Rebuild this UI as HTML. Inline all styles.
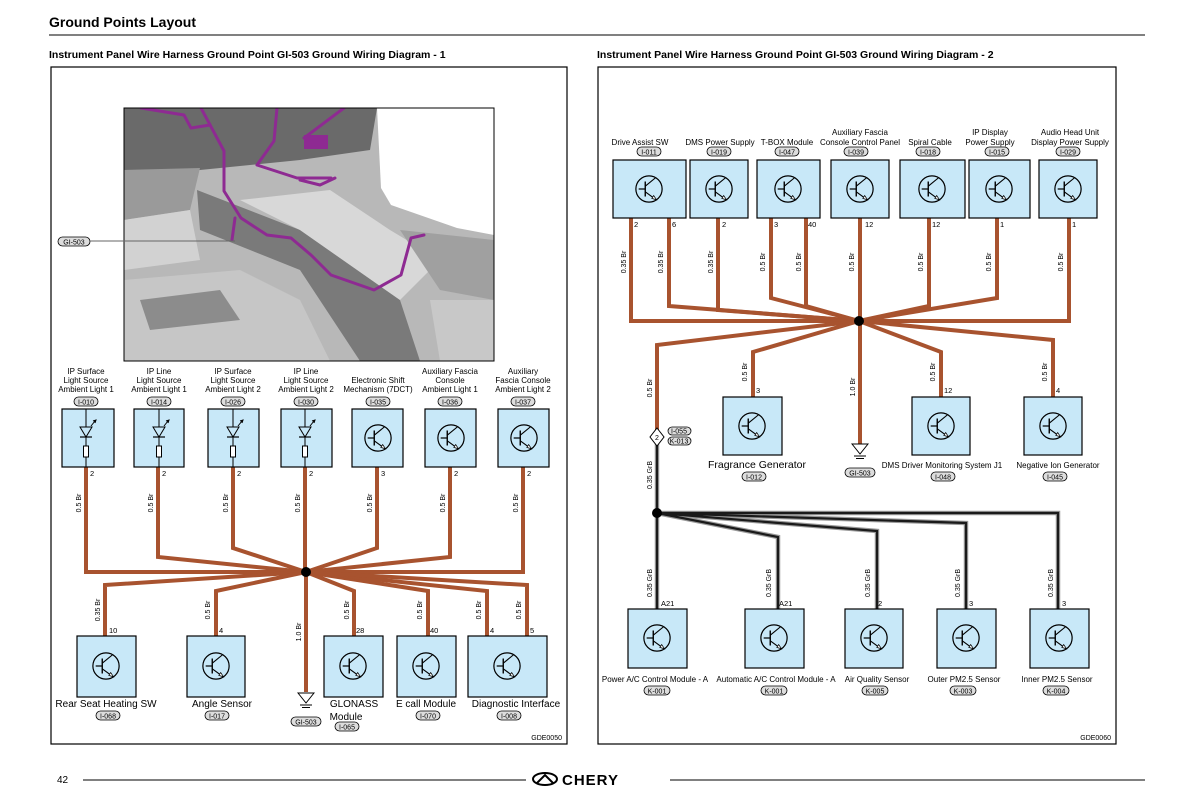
<!DOCTYPE html>
<html><head><meta charset="utf-8"><style>
html,body{margin:0;padding:0;background:#fff}
svg{display:block}
text{font-family:"Liberation Sans",Arial,sans-serif;fill:#000}
.s{font-size:8px}
.m{font-size:10px}
.p{font-size:7.5px}
.w{font-size:7px}
.bx{fill:#c8e8f8;stroke:#000;stroke-width:1.2}
.br{fill:none;stroke:#a8532f;stroke-width:4;stroke-linejoin:miter}
.bk1{fill:none;stroke:#999;stroke-width:4.5}
.bk2{fill:none;stroke:#1a1a1a;stroke-width:2.2}
.ov{fill:#ddd;stroke:#000;stroke-width:0.8}
.hp{fill:none;stroke:#8e2a92;stroke-width:3;stroke-linejoin:round;stroke-linecap:round}
</style></head><body>
<svg width="1191" height="797" viewBox="0 0 1191 797" xmlns="http://www.w3.org/2000/svg">
<defs>
<symbol id="t" viewBox="-16 -16 32 32">
<circle cx="0" cy="0" r="14" fill="none" stroke="#000" stroke-width="1.3"/>
<line x1="-11" y1="0" x2="-4" y2="0" stroke="#000" stroke-width="1.3"/>
<line x1="-4" y1="-8" x2="-4" y2="8" stroke="#000" stroke-width="1.5"/>
<line x1="-4" y1="-3" x2="7" y2="-12" stroke="#000" stroke-width="1.2"/>
<line x1="-4" y1="3" x2="7" y2="11" stroke="#000" stroke-width="1.2"/>
<path d="M3 10 L8 11.5 L5 7 Z" fill="#fff" stroke="#000" stroke-width="0.8"/>
</symbol>
<symbol id="d" viewBox="0 0 52 58">
<line x1="26" y1="0" x2="26" y2="18" stroke="#000" stroke-width="1"/>
<path d="M20 18 L32 18 L26 28 Z" fill="none" stroke="#000" stroke-width="1"/>
<line x1="20" y1="28" x2="32" y2="28" stroke="#000" stroke-width="1.2"/>
<line x1="26" y1="28" x2="26" y2="37" stroke="#000" stroke-width="1"/>
<rect x="23.5" y="37" width="5" height="11" fill="#fff" stroke="#000" stroke-width="1"/>
<line x1="26" y1="48" x2="26" y2="58" stroke="#000" stroke-width="1"/>
<path d="M31 17 L35 12 M33 12 L36 11 L35 14" stroke="#000" stroke-width="1" fill="none"/>
</symbol>
<symbol id="g" viewBox="0 0 18 18">
<path d="M1 1 L17 1 L9 11 Z" fill="#fff" stroke="#000" stroke-width="1"/>
<line x1="3" y1="13" x2="15" y2="13" stroke="#000"/>
<line x1="5" y1="15.5" x2="13" y2="15.5" stroke="#000"/>
</symbol>
<clipPath id="pc"><rect x="124" y="108" width="370" height="253"/></clipPath>
</defs>

<!-- header -->
<text x="49" y="27" style="font-size:14px;font-weight:bold">Ground Points Layout</text>
<line x1="49" y1="35" x2="1145" y2="35" stroke="#000" stroke-width="1"/>
<text x="49" y="58" style="font-size:10.5px;font-weight:bold">Instrument Panel Wire Harness Ground Point GI-503 Ground Wiring Diagram - 1</text>
<text x="597" y="58" style="font-size:10.5px;font-weight:bold">Instrument Panel Wire Harness Ground Point GI-503 Ground Wiring Diagram - 2</text>

<rect x="51" y="67" width="516" height="677" fill="none" stroke="#000" stroke-width="1.2"/>
<rect x="598" y="67" width="518" height="677" fill="none" stroke="#000" stroke-width="1.2"/>

<!-- photo -->
<g clip-path="url(#pc)">
<rect x="124" y="108" width="370" height="253" fill="#b8b8b8"/>
<path d="M124 108 H377 L370 150 L300 160 L200 170 L124 175 Z" fill="#6a6a6a"/>
<path d="M124 170 L200 168 L190 210 L124 220 Z" fill="#9a9a9a"/>
<path d="M124 220 L190 210 L200 260 L124 270 Z" fill="#d2d2d2"/>
<path d="M197 190 L300 230 L400 300 L420 361 L360 361 L300 270 L200 230 Z" fill="#7a7a7a"/>
<path d="M240 200 L330 190 L390 230 L440 260 L400 300 L300 230 Z" fill="#d8d8d8"/>
<path d="M400 230 L494 240 L494 300 L440 290 Z" fill="#a0a0a0"/>
<path d="M124 280 L240 270 L300 300 L330 361 L124 361 Z" fill="#c6c6c6"/>
<path d="M140 300 L220 290 L240 320 L150 330 Z" fill="#8c8c8c"/>
<path d="M430 300 L494 300 L494 361 L440 361 Z" fill="#c8c8c8"/>
<path d="M377 108 H494 V235 L457 228 L391 205 L381 188 Z" fill="#fff"/>
<path class="hp" d="M201 108 L224 151 L224 191 L241 218 L267 235 L291 238 L311 255 L331 275 L374 290 L401 275 L411 238 L424 235"/>
<path class="hp" d="M277 108 L274 141 L257 165 L297 178 L331 178"/>
<path class="hp" d="M141 108 L184 115 L191 128 L210 125"/>
<path class="hp" d="M304 138 L344 108"/>
<rect x="304" y="135" width="24" height="14" fill="#8e2a92"/>
<path class="hp" d="M235 218 L232 240"/>
<path class="hp" d="M300 180 L320 185 L335 178"/>
</g>
<rect x="124" y="108" width="370" height="253" fill="none" stroke="#000" stroke-width="1"/>
<rect x="58" y="237" width="32" height="9" rx="4.5" class="ov"/>
<text x="74" y="244.5" class="w" text-anchor="middle">GI-503</text>
<line x1="90" y1="241" x2="235" y2="241" stroke="#666" stroke-width="1"/>

<!-- LEFT TOP -->
<g class="s" text-anchor="middle">
<text x="86" y="374">IP Surface</text><text x="86" y="383">Light Source</text><text x="86" y="392">Ambient Light 1</text>
<text x="159" y="374">IP Line</text><text x="159" y="383">Light Source</text><text x="159" y="392">Ambient Light 1</text>
<text x="233" y="374">IP Surface</text><text x="233" y="383">Light Source</text><text x="233" y="392">Ambient Light 2</text>
<text x="306" y="374">IP Line</text><text x="306" y="383">Light Source</text><text x="306" y="392">Ambient Light 2</text>
<text x="378" y="383">Electronic Shift</text><text x="378" y="392">Mechanism (7DCT)</text>
<text x="450" y="374">Auxiliary Fascia</text><text x="450" y="383">Console</text><text x="450" y="392">Ambient Light 1</text>
<text x="523" y="374">Auxiliary</text><text x="523" y="383">Fascia Console</text><text x="523" y="392">Ambient Light 2</text>
</g>
<g>
<rect x="74" y="397" width="24" height="9" rx="4.5" class="ov"/><rect x="147" y="397" width="24" height="9" rx="4.5" class="ov"/>
<rect x="221" y="397" width="24" height="9" rx="4.5" class="ov"/><rect x="294" y="397" width="24" height="9" rx="4.5" class="ov"/>
<rect x="366" y="397" width="24" height="9" rx="4.5" class="ov"/><rect x="438" y="397" width="24" height="9" rx="4.5" class="ov"/>
<rect x="511" y="397" width="24" height="9" rx="4.5" class="ov"/>
</g>
<g class="w" text-anchor="middle">
<text x="86" y="404.5">I-010</text><text x="159" y="404.5">I-014</text><text x="233" y="404.5">I-026</text><text x="306" y="404.5">I-030</text><text x="378" y="404.5">I-035</text><text x="450" y="404.5">I-036</text><text x="523" y="404.5">I-037</text>
</g>
<path class="br" d="M86 467 V572 H306"/>
<path class="br" d="M158 467 V557 L306 572"/>
<path class="br" d="M233 467 V548 L306 572"/>
<path class="br" d="M305 467 V572"/>
<path class="br" d="M377 467 V548 L306 572"/>
<path class="br" d="M450 467 V557 L306 572"/>
<path class="br" d="M523 467 V572 H306"/>
<path class="br" d="M306 572 L105 585 V636"/>
<path class="br" d="M306 572 L216 591 V636"/>
<path class="br" d="M306 572 V692"/>
<path class="br" d="M306 572 L354 591 V636"/>
<path class="br" d="M306 572 L428 591 V636"/>
<path class="br" d="M306 572 L487 591 V636"/>
<path class="br" d="M306 572 L527 585 V636"/>
<circle cx="306" cy="572" r="5" fill="#000"/>

<rect x="62" y="409" width="52" height="58" class="bx"/><use href="#d" x="60" y="409" width="52" height="58"/>
<rect x="134" y="409" width="50" height="58" class="bx"/><use href="#d" x="133" y="409" width="52" height="58"/>
<rect x="208" y="409" width="51" height="58" class="bx"/><use href="#d" x="207" y="409" width="52" height="58"/>
<rect x="281" y="409" width="51" height="58" class="bx"/><use href="#d" x="279" y="409" width="52" height="58"/>
<rect x="352" y="409" width="51" height="58" class="bx"/><use href="#t" x="363" y="423" width="30" height="30"/>
<rect x="425" y="409" width="51" height="58" class="bx"/><use href="#t" x="436" y="423" width="30" height="30"/>
<rect x="498" y="409" width="51" height="58" class="bx"/><use href="#t" x="509" y="423" width="30" height="30"/>
<g class="p">
<text x="90" y="476">2</text><text x="162" y="476">2</text><text x="237" y="476">2</text><text x="309" y="476">2</text><text x="381" y="476">3</text><text x="454" y="476">2</text><text x="527" y="476">2</text>
</g>
<g class="w" text-anchor="middle">
<text transform="translate(81 503) rotate(-90)">0.5 Br</text>
<text transform="translate(153 503) rotate(-90)">0.5 Br</text>
<text transform="translate(228 503) rotate(-90)">0.5 Br</text>
<text transform="translate(300 503) rotate(-90)">0.5 Br</text>
<text transform="translate(372 503) rotate(-90)">0.5 Br</text>
<text transform="translate(445 503) rotate(-90)">0.5 Br</text>
<text transform="translate(518 503) rotate(-90)">0.5 Br</text>
<text transform="translate(100 610) rotate(-90)">0.35 Br</text>
<text transform="translate(210 610) rotate(-90)">0.5 Br</text>
<text transform="translate(301 632) rotate(-90)">1.0 Br</text>
<text transform="translate(349 610) rotate(-90)">0.5 Br</text>
<text transform="translate(422 610) rotate(-90)">0.5 Br</text>
<text transform="translate(481 610) rotate(-90)">0.5 Br</text>
<text transform="translate(521 610) rotate(-90)">0.5 Br</text>
</g>
<rect x="77" y="636" width="59" height="61" class="bx"/><use href="#t" x="91" y="651" width="30" height="30"/>
<rect x="187" y="636" width="58" height="61" class="bx"/><use href="#t" x="201" y="651" width="30" height="30"/>
<rect x="324" y="636" width="59" height="61" class="bx"/><use href="#t" x="338" y="651" width="30" height="30"/>
<rect x="397" y="636" width="59" height="61" class="bx"/><use href="#t" x="411" y="651" width="30" height="30"/>
<rect x="468" y="636" width="79" height="61" class="bx"/><use href="#t" x="492" y="651" width="30" height="30"/>
<use href="#g" x="297" y="692" width="18" height="18"/>
<g class="p">
<text x="109" y="633">10</text><text x="219" y="633">4</text><text x="356" y="633">28</text><text x="430" y="633">40</text><text x="490" y="633">4</text><text x="530" y="633">5</text>
</g>
<g class="m" text-anchor="middle">
<text x="106" y="707">Rear Seat Heating SW</text>
<text x="222" y="707">Angle Sensor</text>
<text x="354" y="707">GLONASS</text>
<text x="346" y="720">Module</text>
<text x="426" y="707">E call Module</text>
<text x="516" y="707">Diagnostic Interface</text>
</g>
<rect x="96" y="711" width="24" height="9" rx="4.5" class="ov"/>
<rect x="205" y="711" width="24" height="9" rx="4.5" class="ov"/>
<rect x="291" y="717" width="30" height="9" rx="4.5" class="ov"/>
<rect x="335" y="722" width="24" height="9" rx="4.5" class="ov"/>
<rect x="416" y="711" width="24" height="9" rx="4.5" class="ov"/>
<rect x="497" y="711" width="24" height="9" rx="4.5" class="ov"/>
<g class="w" text-anchor="middle">
<text x="108" y="718.5">I-068</text><text x="217" y="718.5">I-017</text><text x="306" y="724.5">GI-503</text><text x="347" y="729.5">I-065</text><text x="428" y="718.5">I-070</text><text x="509" y="718.5">I-008</text>
</g>
<text x="562" y="740" class="w" text-anchor="end">GDE0050</text>

<!-- RIGHT TOP -->
<g class="s" text-anchor="middle">
<text x="640" y="145">Drive Assist SW</text>
<text x="720" y="145">DMS Power Supply</text>
<text x="787" y="145">T-BOX Module</text>
<text x="860" y="135">Auxiliary Fascia</text><text x="860" y="145">Console Control Panel</text>
<text x="930" y="145">Spiral Cable</text>
<text x="990" y="135">IP Display</text><text x="990" y="145">Power Supply</text>
<text x="1070" y="135">Audio Head Unit</text><text x="1070" y="145">Display Power Supply</text>
</g>
<g>
<rect x="637" y="147" width="24" height="9" rx="4.5" class="ov"/><rect x="707" y="147" width="24" height="9" rx="4.5" class="ov"/>
<rect x="775" y="147" width="24" height="9" rx="4.5" class="ov"/><rect x="844" y="147" width="24" height="9" rx="4.5" class="ov"/>
<rect x="916" y="147" width="24" height="9" rx="4.5" class="ov"/><rect x="985" y="147" width="24" height="9" rx="4.5" class="ov"/>
<rect x="1056" y="147" width="24" height="9" rx="4.5" class="ov"/>
</g>
<g class="w" text-anchor="middle">
<text x="649" y="154.5">I-011</text><text x="719" y="154.5">I-019</text><text x="787" y="154.5">I-047</text><text x="856" y="154.5">I-039</text><text x="928" y="154.5">I-018</text><text x="997" y="154.5">I-015</text><text x="1068" y="154.5">I-029</text>
</g>
<path class="br" d="M631 218 V321 H859"/>
<path class="br" d="M669 218 V306 L859 321"/>
<path class="br" d="M718 218 V310 L859 321"/>
<path class="br" d="M771 218 V298 L859 321"/>
<path class="br" d="M806 218 V306 L859 321"/>
<path class="br" d="M860 218 V321"/>
<path class="br" d="M929 218 V306 L859 321"/>
<path class="br" d="M997 218 V298 L859 321"/>
<path class="br" d="M1069 218 V321 H859"/>
<path class="br" d="M859 321 L657 345 V432"/>
<path class="br" d="M859 321 L753 352 V397"/>
<path class="br" d="M860 321 V445"/>
<path class="br" d="M859 321 L941 352 V397"/>
<path class="br" d="M859 321 L1053 340 V397"/>
<circle cx="859" cy="321" r="5" fill="#000"/>

<rect x="613" y="160" width="73" height="58" class="bx"/><use href="#t" x="634" y="174" width="30" height="30"/>
<rect x="690" y="160" width="58" height="58" class="bx"/><use href="#t" x="704" y="174" width="30" height="30"/>
<rect x="757" y="160" width="63" height="58" class="bx"/><use href="#t" x="773" y="174" width="30" height="30"/>
<rect x="831" y="160" width="58" height="58" class="bx"/><use href="#t" x="845" y="174" width="30" height="30"/>
<rect x="900" y="160" width="65" height="58" class="bx"/><use href="#t" x="917" y="174" width="30" height="30"/>
<rect x="969" y="160" width="61" height="58" class="bx"/><use href="#t" x="984" y="174" width="30" height="30"/>
<rect x="1039" y="160" width="58" height="58" class="bx"/><use href="#t" x="1053" y="174" width="30" height="30"/>
<g class="p">
<text x="634" y="227">2</text><text x="672" y="227">6</text><text x="722" y="227">2</text><text x="774" y="227">3</text><text x="808" y="227">40</text><text x="865" y="227">12</text><text x="932" y="227">12</text><text x="1000" y="227">1</text><text x="1072" y="227">1</text>
</g>
<g class="w" text-anchor="middle">
<text transform="translate(626 262) rotate(-90)">0.35 Br</text>
<text transform="translate(663 262) rotate(-90)">0.35 Br</text>
<text transform="translate(713 262) rotate(-90)">0.35 Br</text>
<text transform="translate(765 262) rotate(-90)">0.5 Br</text>
<text transform="translate(801 262) rotate(-90)">0.5 Br</text>
<text transform="translate(854 262) rotate(-90)">0.5 Br</text>
<text transform="translate(923 262) rotate(-90)">0.5 Br</text>
<text transform="translate(991 262) rotate(-90)">0.5 Br</text>
<text transform="translate(1063 262) rotate(-90)">0.5 Br</text>
<text transform="translate(652 388) rotate(-90)">0.5 Br</text>
<text transform="translate(747 372) rotate(-90)">0.5 Br</text>
<text transform="translate(855 387) rotate(-90)">1.0 Br</text>
<text transform="translate(935 372) rotate(-90)">0.5 Br</text>
<text transform="translate(1047 372) rotate(-90)">0.5 Br</text>
<text transform="translate(652 475) rotate(-90)">0.35 GrB</text>
<text transform="translate(652 583) rotate(-90)">0.35 GrB</text>
<text transform="translate(771 583) rotate(-90)">0.35 GrB</text>
<text transform="translate(870 583) rotate(-90)">0.35 GrB</text>
<text transform="translate(960 583) rotate(-90)">0.35 GrB</text>
<text transform="translate(1053 583) rotate(-90)">0.35 GrB</text>
</g>
<rect x="723" y="397" width="59" height="58" class="bx"/><use href="#t" x="737" y="411" width="30" height="30"/>
<rect x="912" y="397" width="58" height="58" class="bx"/><use href="#t" x="926" y="411" width="30" height="30"/>
<rect x="1024" y="397" width="58" height="58" class="bx"/><use href="#t" x="1038" y="411" width="30" height="30"/>
<use href="#g" x="851" y="443" width="18" height="18"/>
<g class="p"><text x="756" y="393">3</text><text x="944" y="393">12</text><text x="1056" y="393">4</text></g>
<text x="757" y="468" text-anchor="middle" style="font-size:10.5px">Fragrance Generator</text>
<text x="942" y="468" class="s" text-anchor="middle">DMS Driver Monitoring System J1</text>
<text x="1058" y="468" class="s" text-anchor="middle">Negative Ion Generator</text>
<rect x="742" y="472" width="24" height="9" rx="4.5" class="ov"/>
<rect x="845" y="468" width="30" height="9" rx="4.5" class="ov"/>
<rect x="931" y="472" width="24" height="9" rx="4.5" class="ov"/>
<rect x="1043" y="472" width="24" height="9" rx="4.5" class="ov"/>
<g class="w" text-anchor="middle"><text x="754" y="479.5">I-012</text><text x="860" y="475.5">GI-503</text><text x="943" y="479.5">I-048</text><text x="1055" y="479.5">I-045</text></g>

<path class="bk1" d="M657 444 V513 M657 513 V609 M657 513 L778 537 V609 M657 513 L877 531 V609 M657 513 L966 523 V609 M657 513 H1058 V609"/>
<path class="bk2" d="M657 444 V513 M657 513 V609 M657 513 L778 537 V609 M657 513 L877 531 V609 M657 513 L966 523 V609 M657 513 H1058 V609"/>
<circle cx="657" cy="513" r="5" fill="#000"/>
<path d="M657 428 L664 437 L657 446 L650 437 Z" fill="#fff" stroke="#000" stroke-width="1"/>
<text x="657" y="440" class="w" text-anchor="middle">2</text>
<rect x="668" y="427" width="23" height="8" rx="4" class="ov"/><rect x="668" y="437" width="23" height="8" rx="4" class="ov"/>
<text x="679" y="433.5" class="w" text-anchor="middle">I-055</text><text x="679" y="443.5" class="w" text-anchor="middle">K-013</text>

<rect x="628" y="609" width="59" height="59" class="bx"/><use href="#t" x="642" y="623" width="30" height="30"/>
<rect x="745" y="609" width="59" height="59" class="bx"/><use href="#t" x="759" y="623" width="30" height="30"/>
<rect x="845" y="609" width="58" height="59" class="bx"/><use href="#t" x="859" y="623" width="30" height="30"/>
<rect x="937" y="609" width="59" height="59" class="bx"/><use href="#t" x="951" y="623" width="30" height="30"/>
<rect x="1030" y="609" width="59" height="59" class="bx"/><use href="#t" x="1044" y="623" width="30" height="30"/>
<g class="p"><text x="661" y="606">A21</text><text x="779" y="606">A21</text><text x="878" y="606">2</text><text x="969" y="606">3</text><text x="1062" y="606">3</text></g>
<g class="s" text-anchor="middle">
<text x="655" y="682">Power A/C Control Module - A</text>
<text x="776" y="682">Automatic A/C Control Module - A</text>
<text x="877" y="682">Air Quality Sensor</text>
<text x="964" y="682">Outer PM2.5 Sensor</text>
<text x="1057" y="682">Inner PM2.5 Sensor</text>
</g>
<rect x="644" y="686" width="26" height="9" rx="4.5" class="ov"/><rect x="761" y="686" width="26" height="9" rx="4.5" class="ov"/>
<rect x="862" y="686" width="26" height="9" rx="4.5" class="ov"/><rect x="950" y="686" width="26" height="9" rx="4.5" class="ov"/>
<rect x="1043" y="686" width="26" height="9" rx="4.5" class="ov"/>
<g class="w" text-anchor="middle"><text x="657" y="693.5">K-001</text><text x="774" y="693.5">K-001</text><text x="875" y="693.5">K-005</text><text x="963" y="693.5">K-003</text><text x="1056" y="693.5">K-004</text></g>
<text x="1111" y="740" class="w" text-anchor="end">GDE0060</text>

<!-- footer -->
<text x="57" y="783" style="font-size:10px">42</text>
<line x1="83" y1="780" x2="526" y2="780" stroke="#000" stroke-width="1"/>
<line x1="670" y1="780" x2="1145" y2="780" stroke="#000" stroke-width="1"/>
<ellipse cx="545" cy="779" rx="12" ry="6" fill="none" stroke="#000" stroke-width="2"/>
<path d="M537 783 L545 775 L553 783" fill="none" stroke="#000" stroke-width="2"/>
<text x="562" y="785" style="font-size:15px;font-weight:bold;letter-spacing:1px">CHERY</text>
</svg>
</body></html>
